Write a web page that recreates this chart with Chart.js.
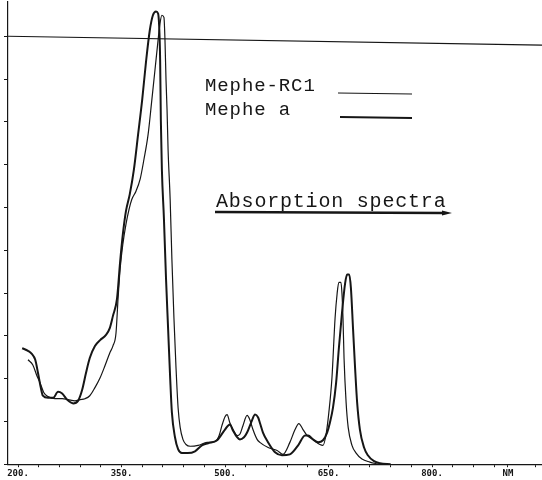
<!DOCTYPE html>
<html>
<head>
<meta charset="utf-8">
<script src="https://cdn.jsdelivr.net/npm/chart.js@4.4.1/dist/chart.umd.min.js"></script>
<style>
  html, body { margin: 0; padding: 0; background: #fff; }
  #wrap { width: 542px; height: 480px; position: relative; }
</style>
</head>
<body>
<div id="wrap"><canvas id="spectra"></canvas></div>
<script>
// wavelengths (nm) and absorbance
const wlMepheA = [206,214.5,220,225,229,233,236,243.5,251,258,264,271,280,287,293,298.5,304,311.5,319,327.5,333,337.5,343.5,348,352,356.5,362,368,374,380,385.5,391,395.5,400,403,404.5,406,407,408.5,411.5,414.5,417.5,420.5,423,427.5,432,437.5,446,456.5,466.5,475.5,488.5,500,507,511.5,517.5,521.5,527.5,532,539,543.5,548,550.5,555,562.5,572.5,582.5,594,606,616,620.5,627.5,635,642,648,652,656.5,661,665,669.5,674,677,680,682.5,685.5,688.5,691.5,695.5,701.5,707,716,724.5,740];
const absMepheA = [0.271,0.265,0.258,0.244,0.213,0.179,0.160,0.155,0.155,0.169,0.165,0.151,0.142,0.148,0.174,0.213,0.248,0.276,0.290,0.302,0.318,0.346,0.387,0.473,0.538,0.592,0.631,0.689,0.770,0.852,0.940,1.014,1.049,1.058,1.053,1.026,0.944,0.805,0.689,0.573,0.434,0.318,0.202,0.121,0.063,0.035,0.026,0.026,0.030,0.044,0.049,0.056,0.081,0.093,0.079,0.063,0.058,0.063,0.074,0.102,0.116,0.109,0.097,0.074,0.051,0.028,0.021,0.023,0.044,0.067,0.067,0.058,0.051,0.056,0.074,0.097,0.132,0.190,0.271,0.353,0.422,0.443,0.443,0.411,0.318,0.225,0.144,0.081,0.039,0.021,0.007,0.002,0];

const wlMepheRC1 = [214.5,221.5,227.5,232,237.5,243.5,253.5,264,272.5,282.5,290,297,304,311.5,319,326,333,337.5,342,345,348,352,356.5,361,365,371,377,382.5,388.5,394,398.5,403,406,408.5,411.5,413,414.5,416,417.5,420.5,423,426,429,432,435,439,443.5,449.5,461,474,485.5,491.5,495.5,500,503,507,513,517.5,521.5,526,532,536,540.5,546.5,550.5,562.5,575.5,584,594,601.5,607,613,619,627.5,637.5,642,646.5,650.5,655,659.5,662.5,665,668,669.5,671,672.5,675.5,678.5,684,690,698.5,710,722];
const absMepheRC1 = [0.244,0.232,0.206,0.190,0.167,0.158,0.153,0.153,0.151,0.148,0.151,0.153,0.160,0.179,0.202,0.230,0.260,0.276,0.306,0.387,0.457,0.515,0.561,0.596,0.619,0.638,0.666,0.712,0.770,0.852,0.921,0.991,1.032,1.049,1.044,0.991,0.898,0.828,0.735,0.619,0.480,0.341,0.225,0.132,0.086,0.058,0.046,0.042,0.044,0.051,0.053,0.067,0.090,0.111,0.116,0.097,0.077,0.067,0.070,0.090,0.114,0.104,0.081,0.058,0.051,0.039,0.032,0.023,0.051,0.081,0.095,0.081,0.067,0.058,0.046,0.044,0.070,0.121,0.202,0.341,0.399,0.425,0.425,0.399,0.341,0.248,0.144,0.086,0.044,0.026,0.012,0.005,0];

// x tick positions: minor every 30 nm, labels every 150 nm, unit label near the end
const xMinorTicks = [200,230,260,290,320,350,380,410,440,470,500,530,560,590,620,650,680,710,740,770,800,830,860,890,950];
const xLabelTicks = [200,350,500,650,800];
const unitTick = 910;
const yTicks = [0,0.1,0.2,0.3,0.4,0.5,0.6,0.7,0.8,0.9,1.0];

const toPoints = (xs, ys) => xs.map((v, i) => ({x: v, y: ys[i]}));

const ink = '#161616';

// titles, legend samples and the top frame line like on the plotter sheet
const sheetText = {
  id: 'sheetText',
  afterDatasetsDraw(chart) {
    const {ctx, chartArea, scales: {y}} = chart;
    ctx.save();
    ctx.strokeStyle = ink;
    ctx.lineWidth = 1.2;
    ctx.beginPath();
    ctx.moveTo(chartArea.left, y.getPixelForValue(1.0));
    ctx.lineTo(chartArea.right, y.getPixelForValue(0.979));
    ctx.stroke();

    ctx.fillStyle = ink;
    ctx.font = '19px "Liberation Mono"';
    ctx.letterSpacing = '0.9px';
    ctx.fillText('Mephe-RC1', 205, 91);
    ctx.fillText('Mephe a', 205, 115);

    ctx.lineWidth = 1.1;
    ctx.beginPath(); ctx.moveTo(338, 93); ctx.lineTo(412, 94); ctx.stroke();
    ctx.lineWidth = 2;
    ctx.beginPath(); ctx.moveTo(340, 117); ctx.lineTo(412, 118); ctx.stroke();

    ctx.font = '20px "Liberation Mono"';
    ctx.letterSpacing = '0.8px';
    ctx.fillText('Absorption spectra', 216, 207);
    ctx.lineWidth = 2.5;
    ctx.beginPath(); ctx.moveTo(215, 212); ctx.lineTo(444, 213); ctx.stroke();
    ctx.beginPath();
    ctx.moveTo(442, 210.5); ctx.lineTo(452, 213); ctx.lineTo(442, 215.5);
    ctx.closePath(); ctx.fill();
    ctx.restore();
  }
};

new Chart(document.getElementById('spectra'), {
  type: 'line',
  data: {
    datasets: [{
      label: 'Mephe-RC1',
      data: toPoints(wlMepheRC1, absMepheRC1),
      borderColor: ink,
      borderWidth: 1.2,
      pointRadius: 0,
      cubicInterpolationMode: 'monotone',
      fill: false
    }, {
      label: 'Mephe a',
      data: toPoints(wlMepheA, absMepheA),
      borderColor: ink,
      borderWidth: 2,
      pointRadius: 0,
      cubicInterpolationMode: 'monotone',
      fill: false
    }]
  },
  options: {
    responsive: true,
    maintainAspectRatio: false,
    animation: false,
    devicePixelRatio: 1,
    layout: { padding: { left: 4, right: 0, top: 2, bottom: 0 } },
    plugins: {
      legend: { display: false },
      tooltip: { enabled: false }
    },
    scales: {
      x: {
        type: 'linear',
        min: 185.5,
        max: 959.4,
        afterBuildTicks: axis => {
          axis.ticks = xMinorTicks.concat([unitTick]).sort((a, b) => a - b).map(v => ({value: v}));
        },
        ticks: {
          autoSkip: false,
          maxRotation: 0,
          padding: 1,
          color: ink,
          font: { family: '"DejaVu Sans Mono"', size: 9, weight: 'bold' },
          callback: v => v === unitTick ? 'NM' : (xLabelTicks.includes(v) ? v + '.' : '')
        },
        grid: { drawOnChartArea: false, tickLength: 3, color: ink, lineWidth: 1 },
        border: { color: ink, width: 1.2 }
      },
      y: {
        min: 0,
        max: 1.08,
        afterBuildTicks: axis => {
          axis.ticks = yTicks.map(v => ({value: v}));
        },
        ticks: { display: false },
        grid: { drawOnChartArea: false, tickLength: 4, color: ink, lineWidth: 1 },
        border: { color: ink, width: 1.2 }
      }
    }
  },
  plugins: [sheetText]
});
</script>
</body>
</html>
